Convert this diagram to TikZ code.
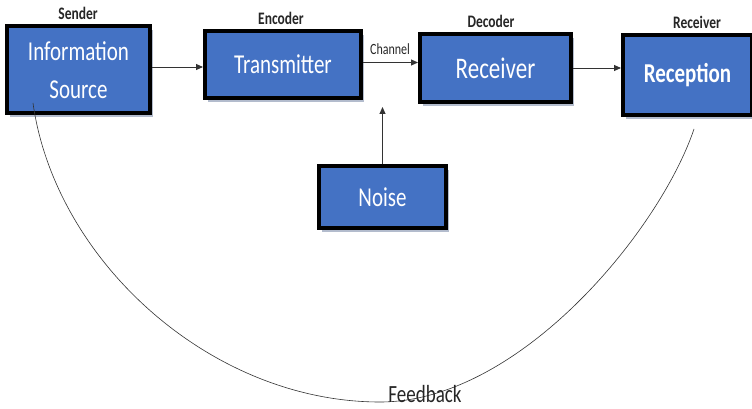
\documentclass[tikz,border=0pt]{standalone}
\usepackage{fontspec}
\usepackage{graphicx}
\setmainfont{Carlito}
\usetikzlibrary{shadows,arrows.meta}
\definecolor{boxblue}{HTML}{4472C4}
\newcommand\vstr[1]{\scalebox{1}[1.3]{#1}}
\tikzset{
  blk/.style={draw=black, line width=4pt, fill=boxblue, text=white, align=center,
    inner sep=0pt, drop shadow={shadow xshift=3pt, shadow yshift=-4pt, fill=boxblue!40!gray, opacity=0.5}},
  toplbl/.style={font=\bfseries\fontsize{13.5}{15}\selectfont, text=black!85},
  arr/.style={draw=black!80, line width=0.9pt, -{Triangle[length=7pt,width=6pt]}},
}
\begin{document}
\begin{tikzpicture}[x=1pt,y=-1pt]
\useasboundingbox (0,0) rectangle (752,409);
\node[blk, minimum width=143pt, minimum height=87pt, font=\fontsize{21}{26}\selectfont] (info) at (78.5,69.5) {\raisebox{-3.5pt}[\height][\depth]{\vstr{\begin{tabular}{@{}c@{}}Information\\[3pt]Source\end{tabular}}}};
\node[blk, minimum width=156pt, minimum height=67pt, font=\fontsize{21}{25}\selectfont] (trans) at (283,64.5) {\vstr{Transmitter}};
\node[blk, minimum width=151pt, minimum height=68pt, font=\fontsize{23}{27}\selectfont] (recv) at (495.5,68) {\vstr{Receiver}};
\node[blk, minimum width=129pt, minimum height=80pt, font=\bfseries\fontsize{21}{25}\selectfont] (recp) at (687.5,75) {\vstr{Reception}};
\node[blk, minimum width=127pt, minimum height=62pt, font=\fontsize{21}{25}\selectfont] (noise) at (382.5,197) {\vstr{Noise}};

\node[toplbl] (l1) at (78,13) {\vstr{Sender}};
\node[toplbl] (l2) at (281,18) {\vstr{Encoder}};
\node[toplbl] (l3) at (491,21) {\vstr{Decoder}};
\node[toplbl] (l4) at (697,22) {\vstr{Receiver}};

\draw[arr] (info.east |- 0,67) -- (trans.west |- 0,67);
\draw[arr] ([yshift=2pt]trans.east) -- ([yshift=2pt]trans.east -| recv.west);
\node[font=\fontsize{12}{14}\selectfont, text=black!85] (ch) at (390,49) {\vstr{Channel}};
\draw[arr] (recv.east) -- (recv.east -| recp.west);
\coordinate (ntip) at (382.5,107);
\draw[arr] (noise.north) -- (ntip);

\coordinate (fbs) at (33,103);
\coordinate (fbm) at (380,402);
\coordinate (fbe) at (694,129);
\draw[black!80, line width=0.6pt] (fbs) .. controls (55,260) and (210,402) .. (fbm)
  .. controls (520,402) and (660,230) .. (fbe);
\node[font=\fontsize{19}{22}\selectfont, text=black!85, inner sep=1pt] (fb) at (425,394) {\vstr{Feedback}};
\end{tikzpicture}
\end{document}
